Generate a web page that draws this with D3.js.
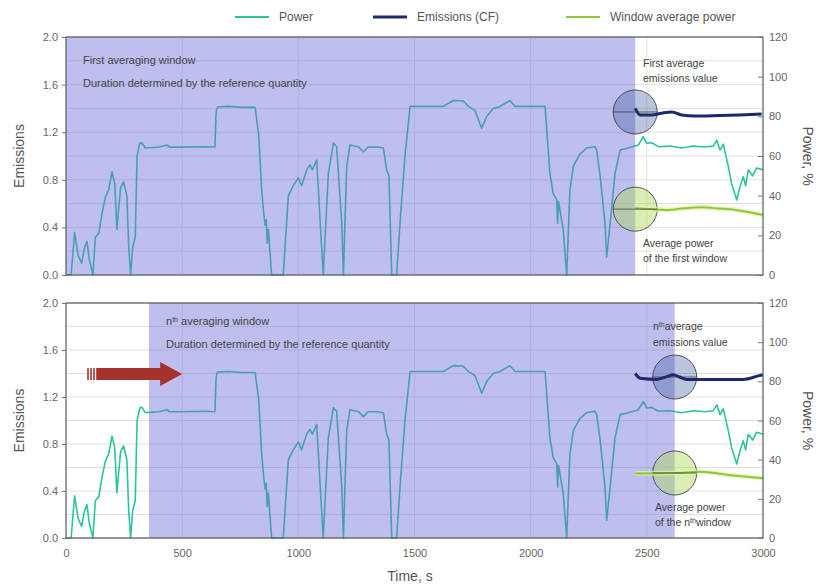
<!DOCTYPE html>
<html>
<head>
<meta charset="utf-8">
<script src="https://cdn.jsdelivr.net/npm/d3@7"></script>
<style>
  body { margin: 0; background: #fff; }
  svg { font-family: "Liberation Sans", Arial, sans-serif; }
</style>
</head>
<body>
<div class="chart"></div>
<script>
// power trace (same in both panels), time in s, power in %
const powerTime = [0, 22, 37, 52, 67, 80, 90, 100, 116, 126, 141, 155, 169, 184, 198, 210, 219, 224, 235, 248, 262, 270, 278,
  287, 298, 306, 318, 327, 341, 400, 435, 445, 500, 600, 641, 646, 652, 700, 760, 814, 830, 842, 852, 857, 862, 866, 871, 885,
  935, 957, 978, 1000, 1014, 1036, 1050, 1060, 1079, 1107, 1129, 1151, 1165, 1187, 1194, 1208, 1222, 1260, 1280, 1300, 1340,
  1366, 1380, 1390, 1402, 1423, 1440, 1459, 1481, 1550, 1624, 1667, 1710, 1732, 1760, 1789, 1811, 1839, 1868, 1911, 1933,
  2000, 2062, 2083, 2097, 2112, 2116, 2120, 2140, 2155, 2169, 2184, 2212, 2241, 2277, 2284, 2298, 2320, 2327, 2342, 2363,
  2385, 2420, 2463, 2485, 2499, 2521, 2550, 2600, 2650, 2700, 2750, 2786, 2801, 2815, 2829, 2851, 2865, 2887, 2901, 2915,
  2925, 2937, 2955, 2973, 3000];
const powerValue = [0, 0, 21.5, 10, 6, 14, 17, 8, 0, 19, 21, 31, 39, 43, 52, 46, 23, 30, 44, 47, 40, 14, 0,
  14, 19, 60, 66.5, 66.7, 64, 64.5, 65.5, 64.5, 64.5, 64.7, 64.5, 82, 84.7, 85, 84.5, 84.5, 70, 43, 30, 25, 28, 16, 23, 0,
  0, 40, 45, 49, 45, 53, 55.5, 53, 58, 0, 51, 66.5, 64.7, 26, 0, 54.6, 65.5, 64.5, 62, 64.5, 64.5,
  64, 53, 50, 0, 0, 30, 60, 85, 85, 85, 88, 87.7, 85, 83, 74, 80, 84, 85, 88, 85,
  85, 85, 51, 41, 38, 26, 37, 23, 0, 43, 55, 61, 64, 64.7, 63, 51, 26, 9, 26, 51,
  63, 64, 65.5, 69.7, 66.4, 66.7, 64.7, 65, 64, 65, 64.5, 65, 68, 63, 66, 54.6, 46, 37.8, 44.5, 49.6,
  45, 53, 50, 54, 53];

// emissions (CF) moving value after the window
const emisTopTime = [2450, 2471, 2521, 2564, 2607, 2650, 2707, 2808, 2900, 2994];
const emisTopValue = [1.40, 1.345, 1.345, 1.36, 1.37, 1.345, 1.336, 1.34, 1.345, 1.353];
const emisBotTime = [2450, 2471, 2543, 2586, 2614, 2640, 2672, 2729, 2915, 2980, 3000];
const emisBotValue = [1.40, 1.36, 1.35, 1.373, 1.39, 1.37, 1.35, 1.35, 1.35, 1.38, 1.39];

// window average power
const avgTopTime = [2450, 2520, 2590, 2660, 2735, 2810, 2880, 3000];
const avgTopValue = [33.6, 33.2, 32.8, 33.6, 34.1, 33.5, 32.8, 30.3];
const avgBotTime = [2450, 2620, 2729, 2850, 3000];
const avgBotValue = [33, 33.2, 33.8, 32.2, 30.5];

const windowTop = [0, 2450];
const windowBot = [357, 2620];

const emisTicks = [0, 0.4, 0.8, 1.2, 1.6, 2.0];
const powerTicks = [0, 20, 40, 60, 80, 100, 120];
const timeTicks = [0, 500, 1000, 1500, 2000, 2500, 3000];

const width = 820, height = 586;
const left = 66, right = 763;

const svg = d3.select(".chart").append("svg")
  .attr("width", width)
  .attr("height", height);

const x = d3.scaleLinear().domain([0, 3000]).range([left, right]);

const powerColor = "#2cc49c";
const emisColor = "#1f2a6e";
const avgColor = "#8cc63f";

function drawPanel(top, bottom, win, emT, emV, avT, avV, circleT, showX) {
  const yE = d3.scaleLinear().domain([0, 2]).range([bottom, top]);
  const yP = d3.scaleLinear().domain([0, 120]).range([bottom, top]);
  const g = svg.append("g");

  // grid
  g.selectAll(".hg").data(d3.range(0, 2.01, 0.2)).enter().append("line")
    .attr("x1", left).attr("x2", right)
    .attr("y1", d => yE(d)).attr("y2", d => yE(d))
    .attr("stroke", "#e6dede").attr("stroke-width", 1);
  g.selectAll(".vg").data(timeTicks.slice(1, -1)).enter().append("line")
    .attr("x1", d => x(d)).attr("x2", d => x(d))
    .attr("y1", top).attr("y2", bottom)
    .attr("stroke", "#e3e3e3").attr("stroke-width", 1);

  const pts = powerTime.map((t, i) => [t, powerValue[i]]);
  g.append("path")
    .datum(pts)
    .attr("fill", "none")
    .attr("stroke", powerColor)
    .attr("stroke-width", 1.6)
    .attr("stroke-linejoin", "round")
    .attr("d", d3.line().x(d => x(d[0])).y(d => yP(d[1])));

  // averaging window
  g.append("rect")
    .attr("x", x(win[0])).attr("y", top)
    .attr("width", x(win[1]) - x(win[0])).attr("height", bottom - top)
    .attr("fill", "rgb(110,110,220)").attr("opacity", 0.45);

  const circles = [
    { cy: yE(1.37), fill: "rgba(60,90,160,0.35)" },
    { cy: yP(avV[1]), fill: "rgba(170,215,90,0.45)" }
  ];
  g.selectAll(".circ").data(circles).enter().append("circle")
    .attr("cx", x(circleT)).attr("cy", d => d.cy).attr("r", 22)
    .attr("fill", d => d.fill)
    .attr("stroke", "#333").attr("stroke-opacity", 0.8).attr("stroke-width", 1);

  const avPts = avT.map((t, i) => [t, avV[i]]);
  const avLine = d3.line().x(d => x(d[0])).y(d => yP(d[1])).curve(d3.curveMonotoneX);
  g.append("path").datum(avPts)
    .attr("fill", "none").attr("stroke", "#e4f2a8").attr("stroke-width", 5).attr("opacity", 0.7)
    .attr("d", avLine);
  g.append("path").datum(avPts)
    .attr("fill", "none").attr("stroke", avgColor).attr("stroke-width", 2)
    .attr("d", avLine);

  const emPts = emT.map((t, i) => [t, emV[i]]);
  g.append("path").datum(emPts)
    .attr("fill", "none").attr("stroke", emisColor).attr("stroke-width", 3)
    .attr("stroke-linejoin", "round")
    .attr("d", d3.line().x(d => x(d[0])).y(d => yE(d[1])).curve(d3.curveMonotoneX));

  // crosshair through the circles
  g.selectAll(".ch").data(circles).enter().append("line")
    .attr("x1", x(circleT) - 22).attr("x2", x(circleT) + 22)
    .attr("y1", d => d.cy).attr("y2", d => d.cy)
    .attr("stroke", "#333").attr("stroke-opacity", 0.7);

  // frame
  g.append("rect")
    .attr("x", left).attr("y", top)
    .attr("width", right - left).attr("height", bottom - top)
    .attr("fill", "none").attr("stroke", "#5a5a5a").attr("stroke-width", 1.2);

  const yAxis = g.append("g")
    .attr("transform", `translate(${left},0)`)
    .call(d3.axisLeft(yE).tickValues(emisTicks).tickFormat(d3.format(".1f")).tickSize(4).tickPadding(4));
  const pAxis = g.append("g")
    .attr("transform", `translate(${right},0)`)
    .call(d3.axisRight(yP).tickValues(powerTicks).tickSize(-5).tickPadding(6));
  [yAxis, pAxis].forEach(a => {
    a.select(".domain").remove();
    a.selectAll("line").attr("stroke", "#777");
    a.selectAll("text").attr("fill", "#666").style("font-size", "11px");
  });

  if (showX) {
    const xAxis = g.append("g")
      .attr("transform", `translate(0,${bottom})`)
      .call(d3.axisBottom(x).tickValues(timeTicks).tickFormat(d3.format("d")).tickSize(0).tickPadding(11));
    xAxis.select(".domain").remove();
    xAxis.selectAll("text").attr("fill", "#666").style("font-size", "11px");
  }

  const mid = (top + bottom) / 2;
  g.append("text")
    .attr("transform", `translate(24,${mid}) rotate(-90)`)
    .attr("text-anchor", "middle")
    .attr("fill", "#555").style("font-size", "14px")
    .text("Emissions");
  g.append("text")
    .attr("transform", `translate(803,${mid}) rotate(90)`)
    .attr("text-anchor", "middle")
    .attr("fill", "#555").style("font-size", "14px")
    .text("Power, %");
  return { g, yE, yP };
}

function note(g, px, py, parts, size) {
  const t = g.append("text").attr("x", px).attr("y", py)
    .attr("fill", "#444").style("font-size", (size || 11) + "px");
  parts.forEach(p => {
    const s = t.append("tspan").text(p.s);
    if (p.sup) s.attr("baseline-shift", "super").style("font-size", "7px");
  });
}

const p1 = drawPanel(37, 275, windowTop, emisTopTime, emisTopValue, avgTopTime, avgTopValue, 2450, false);
const p2 = drawPanel(303, 538, windowBot, emisBotTime, emisBotValue, avgBotTime, avgBotValue, 2620, true);

note(p1.g, 83, 64, [{ s: "First averaging window" }]);
note(p1.g, 83, 87, [{ s: "Duration determined by the reference quantity" }]);
note(p1.g, 643, 67, [{ s: "First average" }], 10.5);
note(p1.g, 643, 82, [{ s: "emissions value" }], 10.5);
note(p1.g, 643, 247, [{ s: "Average power" }], 10.5);
note(p1.g, 643, 262, [{ s: "of the first window" }], 10.5);

note(p2.g, 166, 325, [{ s: "n" }, { s: "th", sup: true }, { s: " averaging window" }]);
note(p2.g, 166, 348, [{ s: "Duration determined by the reference quantity" }]);
note(p2.g, 653, 330, [{ s: "n" }, { s: "th", sup: true }, { s: "average" }], 10.5);
note(p2.g, 653, 346, [{ s: "emissions value" }], 10.5);
note(p2.g, 655, 511, [{ s: "Average power" }], 10.5);
note(p2.g, 655, 526, [{ s: "of the n" }, { s: "th", sup: true }, { s: "window" }], 10.5);

// red arrow pointing at the moved window
const arrowFrom = 130, arrowTo = 500, arrowLevel = 1.395;
const ax0 = x(arrowFrom), ax1 = x(arrowTo), ay = p2.yE(arrowLevel);
const arrow = svg.append("g").attr("fill", "#a5322b");
arrow.append("path")
  .attr("d", `M${ax0},${ay - 6} L${ax1 - 22},${ay - 6} L${ax1 - 22},${ay - 12} L${ax1},${ay} L${ax1 - 22},${ay + 12} L${ax1 - 22},${ay + 6} L${ax0},${ay + 6} Z`);
[9, 6, 3].forEach(o => {
  arrow.append("rect").attr("x", ax0 - o).attr("y", ay - 6).attr("width", 1.6).attr("height", 12);
});

// legend
const legend = [
  { label: "Power", color: powerColor, w: 1.8, x: 235 },
  { label: "Emissions (CF)", color: emisColor, w: 3, x: 373 },
  { label: "Window average power", color: avgColor, w: 2.2, x: 566 }
];
const lg = svg.append("g");
legend.forEach(d => {
  lg.append("line").attr("x1", d.x).attr("x2", d.x + 34).attr("y1", 17).attr("y2", 17)
    .attr("stroke", d.color).attr("stroke-width", d.w);
  lg.append("text").attr("x", d.x + 44).attr("y", 21)
    .attr("fill", "#555").style("font-size", "12px").text(d.label);
});

svg.append("text")
  .attr("x", 410).attr("y", 581)
  .attr("text-anchor", "middle")
  .attr("fill", "#555").style("font-size", "14px")
  .text("Time, s");
</script>
</body>
</html>
